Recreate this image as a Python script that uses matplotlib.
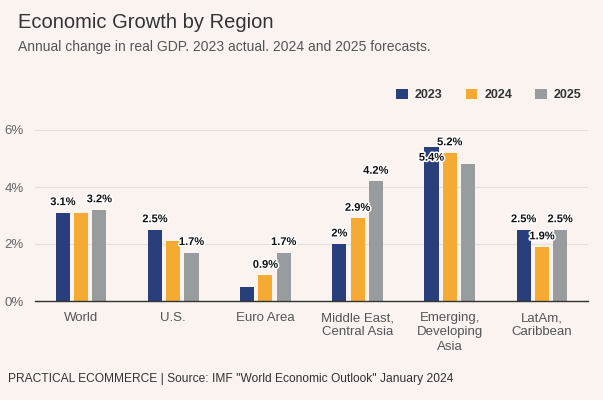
import matplotlib
matplotlib.use("Agg")
import matplotlib.pyplot as plt
import matplotlib.patheffects as pe
from matplotlib.patches import Patch
import numpy as np

plt.rcParams['font.family'] = ['Liberation Sans', 'DejaVu Sans']

categories = ["World", "U.S.", "Euro Area", "Middle East,\nCentral Asia",
              "Emerging,\nDeveloping\nAsia", "LatAm,\nCaribbean"]
years = ["2023", "2024", "2025"]
g2023 = [3.1, 2.5, 0.5, 2.0, 5.4, 2.5]
g2024 = [3.1, 2.1, 0.9, 2.9, 5.2, 1.9]
g2025 = [3.2, 1.7, 1.7, 4.2, 4.8, 2.5]
yticks = [0, 2, 4, 6]
# labels hidden in the reference because of overlap: (series index, category index)
hidden_labels = {(1, 0), (1, 1), (0, 2), (2, 4)}

colors = ["#283f7c", "#f5ab31", "#999c9e"]
bg = "#faf3f0"

fig = plt.figure(figsize=(6.03, 4.0), dpi=100, facecolor=bg)
ax = fig.add_axes([35/603, 1-301/400, (588-35)/603, (301-130)/400])
ax.set_facecolor(bg)

x = np.arange(len(categories))
width = 0.152
step = 0.198
series = [g2023, g2024, g2025]
for i, (vals, c, yr) in enumerate(zip(series, colors, years)):
    xs = x + (i - 1) * step
    ax.bar(xs, vals, width=width, color=c, label=yr, zorder=3)
    for j, (xx, v) in enumerate(zip(xs, vals)):
        if (i, j) in hidden_labels:
            continue
        lbl = f"{v:g}%"
        inside = (i == 0 and j == 4)
        ax.annotate(lbl, (xx, v), xytext=(0, -4 if inside else 4),
                    textcoords="offset points", ha="center",
                    va="top" if inside else "bottom", fontsize=8,
                    fontweight="bold", color="#111111", zorder=5,
                    path_effects=[pe.withStroke(linewidth=2.2, foreground="white")])

ax.set_xlim(-0.5, len(categories) - 0.5)
ax.set_ylim(0, 6)
ax.set_yticks(yticks)
ax.set_yticklabels([f"{t}%" for t in yticks])
ax.set_xticks(x)
ax.set_xticklabels(categories, fontsize=9.5, color="#555555", linespacing=1.25)
ax.tick_params(axis="y", length=0, labelsize=9.5, labelcolor="#666666", pad=8)
ax.tick_params(axis="x", length=0, pad=8)
ax.grid(axis="y", color="#e4dedb", linewidth=0.8, zorder=0)
for s in ["top", "right", "left"]:
    ax.spines[s].set_visible(False)
ax.spines["bottom"].set_color("#333333")
ax.spines["bottom"].set_linewidth(1.0)
ax.spines["bottom"].set_zorder(4)

fig.text(18/603, 1-22/400, "Economic Growth by Region", fontsize=14.5,
         color="#333333", va="center", ha="left")
fig.text(18/603, 1-47/400, "Annual change in real GDP. 2023 actual. 2024 and 2025 forecasts.",
         fontsize=10, color="#555555", va="center", ha="left")
fig.text(8/603, 1-379/400,
         'PRACTICAL ECOMMERCE | Source: IMF "World Economic Outlook" January 2024',
         fontsize=8.65, color="#333333", va="center", ha="left")

handles = [Patch(facecolor=c, edgecolor="none") for c in colors]
leg = fig.legend(handles, years, loc="center right",
                 bbox_to_anchor=(593/603, 1-95/400), ncol=3, frameon=False,
                 handlelength=0.95, handleheight=0.95, handletextpad=0.55,
                 columnspacing=1.85, prop={"weight": "bold", "size": 9})
for t in leg.get_texts():
    t.set_color("#333333")

fig.savefig("out.png", dpi=100, facecolor=bg)
